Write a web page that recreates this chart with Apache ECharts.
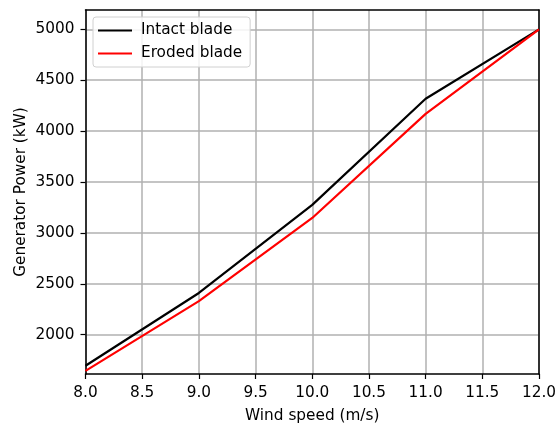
<!DOCTYPE html>
<html>
<head>
<meta charset="utf-8">
<script src="https://cdn.jsdelivr.net/npm/echarts@6/dist/echarts.min.js"></script>
<style>html,body{margin:0;padding:0;background:#fff}#c{width:560px;height:424px}</style>
</head>
<body>
<div id="c"></div>
<script>
const windSpeed = [8, 9, 10, 11, 12];
const intactPower = [1695, 2410, 3275, 4318, 5000];
const erodedPower = [1645, 2330, 3147, 4170, 5000];
const seriesNames = ['Intact blade', 'Eroded blade'];
const yTicks = [2000, 2500, 3000, 3500, 4000, 4500, 5000];
const xLabel = 'Wind speed (m/s)';
const yLabel = 'Generator Power (kW)';

const font = 'DejaVu Sans';
const fs = 15.3;
const yMin = 1614, yMax = 5190;
const chart = echarts.init(document.getElementById('c'), null, {renderer: 'canvas'});
const mk = (xs, ys) => xs.map((x, i) => [x, ys[i]]);
chart.setOption({
  animation: false,
  textStyle: {fontFamily: font},
  grid: {left: 85.5, right: 21, top: 10, bottom: 50, containLabel: false, outerBoundsMode: 'none'},
  legend: {
    orient: 'vertical', left: 93, top: 17,
    padding: [6, 8, 6, 5],
    itemGap: 8, itemWidth: 34, itemHeight: 2.2,
    backgroundColor: 'rgba(255,255,255,0.85)',
    borderColor: '#d0d0d0', borderWidth: 1, borderRadius: 3,
    textStyle: {fontFamily: font, fontSize: fs, color: '#000', padding: [0, 0, 0, 4]},
    data: seriesNames.map(n => ({name: n, icon: 'rect'}))
  },
  xAxis: [{
    type: 'value', min: 8, max: 12, interval: 0.5,
    name: xLabel, nameLocation: 'middle', nameGap: 35, nameMoveOverlap: false,
    nameTextStyle: {fontFamily: font, fontSize: fs, color: '#000'},
    axisLine: {show: true, onZero: false, lineStyle: {color: '#000', width: 1.5}},
    axisTick: {show: true, inside: false, length: 5, lineStyle: {color: '#000', width: 1.2}},
    axisLabel: {fontFamily: font, fontSize: fs, color: '#000', margin: 12, formatter: v => v.toFixed(1)},
    splitLine: {show: true, lineStyle: {color: '#b0b0b0', width: 1.5}}
  }, {type: 'value', position: 'top', min: 8, max: 12,
    axisLine: {show: true, onZero: false, lineStyle: {color: '#000', width: 1.5}},
    axisTick: {show: false}, axisLabel: {show: false}, splitLine: {show: false}}],
  yAxis: [{
    type: 'value', min: yMin, max: yMax,
    name: yLabel, nameLocation: 'middle', nameGap: 57, nameRotate: 90, nameMoveOverlap: false,
    nameTextStyle: {fontFamily: font, fontSize: fs, color: '#000'},
    axisLine: {show: true, onZero: false, lineStyle: {color: '#000', width: 1.5}},
    axisTick: {show: true, inside: false, length: 5, customValues: yTicks, lineStyle: {color: '#000', width: 1.2}},
    axisLabel: {fontFamily: font, fontSize: fs, color: '#000', margin: 11, customValues: yTicks, formatter: v => String(v)},
    splitLine: {show: true, customValues: yTicks, lineStyle: {color: '#b0b0b0', width: 1.5}}
  }, {type: 'value', position: 'right', min: yMin, max: yMax,
    axisLine: {show: true, onZero: false, lineStyle: {color: '#000', width: 1.5}},
    axisTick: {show: false}, axisLabel: {show: false}, splitLine: {show: false}}],
  series: [
    {name: seriesNames[0], type: 'line', data: mk(windSpeed, intactPower), symbol: 'none',
     lineStyle: {color: '#000', width: 2.2}, itemStyle: {color: '#000'}, z: 3},
    {name: seriesNames[1], type: 'line', data: mk(windSpeed, erodedPower), symbol: 'none',
     lineStyle: {color: '#ff0000', width: 2.2}, itemStyle: {color: '#ff0000'}, z: 4}
  ]
});
</script>
</body>
</html>
